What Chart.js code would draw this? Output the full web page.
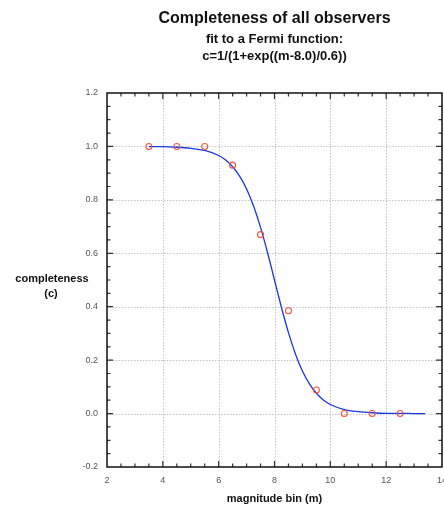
<!DOCTYPE html>
<html>
<head>
<meta charset="utf-8">
<title>Completeness of all observers</title>
<script src="https://cdn.jsdelivr.net/npm/chart.js@4/dist/chart.umd.min.js"></script>
<style>
  html, body { margin: 0; padding: 0; background: #fff; }
  canvas { display: block; }
</style>
</head>
<body>
<canvas id="chart" width="444" height="505"></canvas>
<script>
// observed completeness per magnitude bin
const magBins = [3.5, 4.5, 5.5, 6.5, 7.5, 8.5, 9.5, 10.5, 11.5, 12.5];
const completeness = [1.0, 1.0, 1.0, 0.93, 0.67, 0.385, 0.088, 0.0, 0.0, 0.0];

// fitted Fermi curve
const fitMag = [3.5, 4.0, 4.5, 5.0, 5.5, 6.0, 6.25, 6.5, 6.75, 7.0, 7.25, 7.5, 7.75,
                8.0, 8.25, 8.5, 8.75, 9.0, 9.25, 9.5, 9.75, 10.0, 10.5, 11.0, 11.5, 12.0, 12.5, 13.0, 13.4];
const fitC = [0.999, 0.999, 0.997, 0.993, 0.985, 0.966, 0.949, 0.924, 0.889, 0.841, 0.777, 0.697, 0.603,
              0.500, 0.397, 0.303, 0.223, 0.159, 0.111, 0.076, 0.051, 0.034, 0.015, 0.007, 0.003, 0.001, 0.001, 0.0, 0.0];

const xMin = 2, xMax = 14, xStep = 2, xMinor = 0.5;
const yMin = -0.2, yMax = 1.2, yStep = 0.2, yMinor = 0.05;

const FONT = '"Liberation Sans", Arial, Helvetica, sans-serif';
const TICK_FONT = '9px ' + FONT;
const TICK_COLOR = '#555';

const frame = {
  id: 'frame',
  beforeDatasetsDraw(chart) {
    const { ctx, chartArea: a, scales: { x, y } } = chart;
    ctx.save();
    ctx.strokeStyle = '#c4c4c4';
    ctx.lineWidth = 1;
    ctx.setLineDash([1.5, 1.5]);
    for (let v = xMin + xStep; v < xMax - 1e-9; v += xStep) {
      const px = Math.round(x.getPixelForValue(v)) + 0.5;
      ctx.beginPath(); ctx.moveTo(px, a.top); ctx.lineTo(px, a.bottom); ctx.stroke();
    }
    for (let i = 1; i < Math.round((yMax - yMin) / yStep); i++) {
      const py = Math.round(y.getPixelForValue(yMin + i * yStep)) + 0.5;
      ctx.beginPath(); ctx.moveTo(a.left, py); ctx.lineTo(a.right, py); ctx.stroke();
    }
    ctx.restore();
  },
  afterDatasetsDraw(chart) {
    const { ctx, chartArea: a, scales: { x, y } } = chart;
    ctx.save();
    ctx.strokeStyle = '#333';
    ctx.lineWidth = 1.2;
    // x ticks, top and bottom
    const nx = Math.round((xMax - xMin) / xMinor);
    for (let i = 1; i < nx; i++) {
      const px = x.getPixelForValue(xMin + i * xMinor);
      const len = i % 4 === 0 ? 6 : 3.5;
      ctx.beginPath();
      ctx.moveTo(px, a.bottom); ctx.lineTo(px, a.bottom - len);
      ctx.moveTo(px, a.top); ctx.lineTo(px, a.top + len);
      ctx.stroke();
    }
    // y ticks, left and right
    const ny = Math.round((yMax - yMin) / yMinor);
    for (let i = 1; i < ny; i++) {
      const py = y.getPixelForValue(yMin + i * yMinor);
      const len = i % 4 === 0 ? 6 : 3.5;
      ctx.beginPath();
      ctx.moveTo(a.left, py); ctx.lineTo(a.left + len, py);
      ctx.moveTo(a.right, py); ctx.lineTo(a.right - len, py);
      ctx.stroke();
    }
    ctx.strokeStyle = '#111';
    ctx.lineWidth = 1.5;
    ctx.strokeRect(a.left, a.top, a.right - a.left, a.bottom - a.top);
    ctx.restore();
  },
  afterDraw(chart) {
    const { ctx, chartArea: a, scales: { x } } = chart;
    const cx = (a.left + a.right) / 2;
    ctx.save();
    // x tick labels, drawn here so the last one can run off the canvas edge
    ctx.fillStyle = TICK_COLOR;
    ctx.font = TICK_FONT;
    ctx.textAlign = 'center';
    ctx.textBaseline = 'middle';
    x.ticks.forEach(t => ctx.fillText(String(t.value), x.getPixelForValue(t.value), a.bottom + 13.5));

    ctx.fillStyle = '#111';
    ctx.textBaseline = 'alphabetic';
    ctx.font = 'bold 16px ' + FONT;
    ctx.fillText('Completeness of all observers', cx, 23);
    ctx.font = 'bold 13px ' + FONT;
    ctx.fillText('fit to a Fermi function:', cx, 43);
    ctx.fillText('c=1/(1+exp((m-8.0)/0.6))', cx, 60);
    ctx.font = 'bold 11px ' + FONT;
    ctx.fillText('magnitude bin (m)', cx, 502);
    ctx.fillText('completeness', 52, 282);
    ctx.fillText('(c)', 51, 297);
    ctx.restore();
  }
};

new Chart(document.getElementById('chart'), {
  type: 'scatter',
  data: {
    datasets: [{
      label: 'fit',
      data: fitMag.map((m, i) => ({ x: m, y: fitC[i] })),
      showLine: true,
      borderColor: 'rgb(25,55,230)',
      borderWidth: 1.3,
      pointRadius: 0,
      cubicInterpolationMode: 'monotone',
      order: 2
    }, {
      label: 'observed',
      data: magBins.map((m, i) => ({ x: m, y: completeness[i] })),
      showLine: false,
      pointStyle: 'circle',
      pointRadius: 3,
      borderWidth: 1.1,
      borderColor: 'rgb(245,85,65)',
      backgroundColor: 'rgba(0,0,0,0)',
      order: 1
    }]
  },
  options: {
    responsive: false,
    devicePixelRatio: 1,
    animation: false,
    layout: { autoPadding: false, padding: { top: 93, right: 2, bottom: 0, left: 0 } },
    plugins: { legend: { display: false }, tooltip: { enabled: false }, title: { display: false } },
    scales: {
      x: {
        type: 'linear', min: xMin, max: xMax,
        grid: { display: false, drawTicks: false },
        border: { display: false },
        ticks: { stepSize: xStep, display: false },
        afterFit(s) { s.height = 38; }
      },
      y: {
        type: 'linear', min: yMin, max: yMax,
        grid: { display: false, drawTicks: false },
        border: { display: false },
        ticks: {
          stepSize: yStep, padding: 9, color: TICK_COLOR,
          font: { family: FONT, size: 9 },
          autoSkip: false,
          callback: v => (Math.abs(v) < 1e-9 ? 0 : v).toFixed(1)
        },
        afterFit(s) { s.width = 107; }
      }
    }
  },
  plugins: [frame]
});
</script>
</body>
</html>
